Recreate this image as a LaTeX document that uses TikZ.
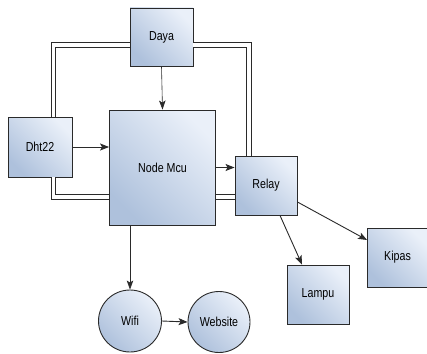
\documentclass[tikz,border=0pt]{standalone}
\usepackage{fontspec}
\setmainfont[FakeStretch=0.82]{Liberation Sans}
\usetikzlibrary{arrows.meta,shapes.geometric}
\definecolor{boxlight}{HTML}{EAF0F9}
\definecolor{boxdark}{HTML}{AEC1DC}
\definecolor{edge}{HTML}{2A2A2A}
\tikzset{
  blk/.style={draw=edge, line width=0.9pt, rectangle, shading=axis, left color=boxlight, right color=boxdark, shading angle=-45,
    font=\fontsize{13}{15}\selectfont, inner sep=0pt},
  oval/.style={blk, ellipse},
  arr/.style={-{Stealth[length=9pt,width=7pt,inset=2pt]}, line width=0.9pt, draw=edge},
  arrthin/.style={-{Stealth[length=9pt,width=6.5pt,inset=2pt]}, line width=0.6pt, draw=edge},
  dbl/.style={double=white, double distance=3.5pt, line width=0.8pt, draw=edge}
}
\begin{document}
\begin{tikzpicture}[x=1pt,y=-1pt]
\useasboundingbox (0,0) rectangle (427,353);
\fill[white] (0,0) rectangle (427,353);
\node[blk, minimum width=63pt, minimum height=58pt] (daya) at (161.5,37) {Daya};
\node[blk, minimum width=106pt, minimum height=115pt] (mcu) at (162.5,167.5) {Node Mcu};
\node[blk, minimum width=64pt, minimum height=60pt] (dht) at (40,147) {Dht22};
\node[blk, minimum width=62pt, minimum height=59pt] (relay) at (266,185.5) {Relay};
\node[blk, minimum width=60pt, minimum height=59pt] (kipas) at (397.5,257.5) {Kipas};
\node[blk, minimum width=62pt, minimum height=59pt] (lampu) at (318,294.5) {Lampu};
\node[oval, minimum width=63pt, minimum height=62pt] (wifi) at (130,321) {Wifi};
\node[oval, minimum width=62pt, minimum height=61pt] (web) at (219,322) {Website};
% double power lines
\draw[dbl] ([xshift=13.5pt]dht.north) |- ([yshift=-8pt]daya.west);
\draw[dbl] ([yshift=-8pt]daya.east) -| ([xshift=-17pt]relay.north);
\draw[dbl] ([xshift=13.5pt]dht.south) |- ([yshift=-29.5pt]mcu.west);
\draw[dbl] ([yshift=-29.5pt]mcu.east) -- ([yshift=-29.5pt]mcu.east -| relay.west);
% arrows
\draw[arrthin] (daya.south) -- (mcu.north);
\draw[arr] (dht.east) -- (dht.east -| mcu.west);
\draw[arr] (mcu.east) -- (mcu.east -| relay.west);
\draw[arr] ([xshift=14pt]relay.south) -- ([xshift=-16pt]lampu.north);
\draw[arr] ([yshift=-16.5pt]relay.east) -- ([yshift=17.5pt]kipas.west);
\draw[arrthin] ([xshift=-32.5pt]mcu.south) -- (wifi.north);
\draw[arr] (wifi.east) -- (web.west);
\end{tikzpicture}
\end{document}
